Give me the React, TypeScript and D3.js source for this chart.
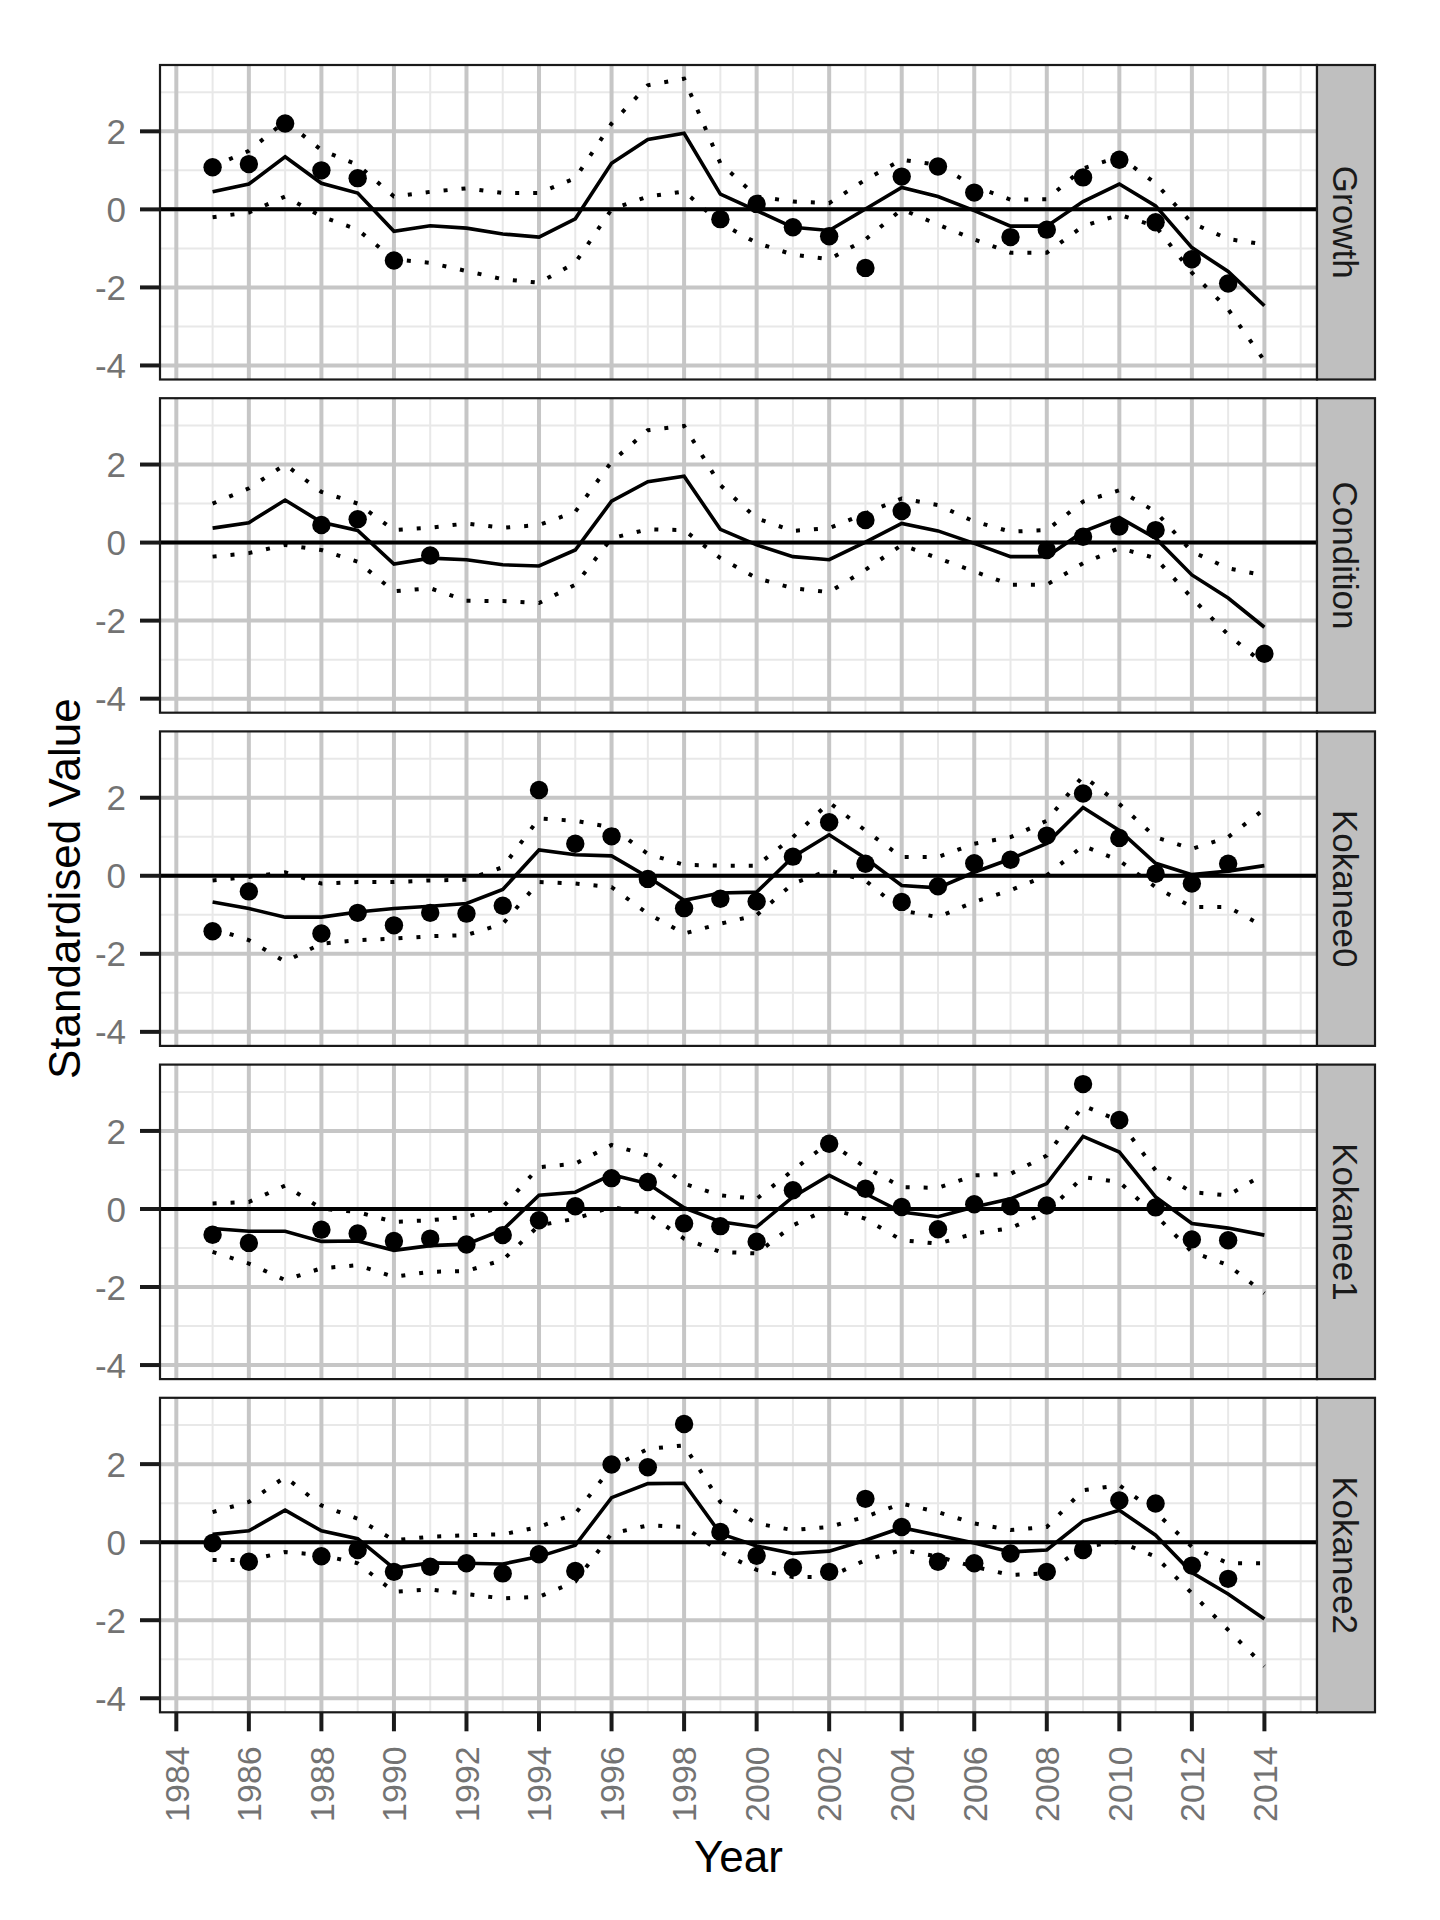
import React from "react";
import * as d3 from "d3";

const years = [1985,1986,1987,1988,1989,1990,1991,1992,1993,1994,1995,1996,1997,1998,1999,2000,2001,2002,2003,2004,2005,2006,2007,2008,2009,2010,2011,2012,2013,2014];
const facetNames = ["Growth", "Condition", "Kokanee0", "Kokanee1", "Kokanee2"];
const xTickYears = [1984,1986,1988,1990,1992,1994,1996,1998,2000,2002,2004,2006,2008,2010,2012,2014];
const yTickValues = [-4, -2, 0, 2];
const yMinorValues = [-3, -1, 1, 3];

const growthTrend = [0.45,0.65,1.35,0.67,0.42,-0.56,-0.42,-0.48,-0.63,-0.71,-0.24,1.18,1.79,1.95,0.39,-0.03,-0.46,-0.54,0.01,0.56,0.33,-0.03,-0.43,-0.43,0.20,0.65,0.09,-0.98,-1.59,-2.47];
const growthUpper = [1.1,1.5,2.26,1.52,1.14,0.33,0.45,0.54,0.42,0.42,0.8,2.2,3.18,3.35,1.18,0.33,0.2,0.16,0.76,1.27,1.14,0.59,0.25,0.26,1.05,1.35,0.67,-0.35,-0.76,-0.9];
const growthLower = [-0.2,-0.08,0.33,-0.18,-0.52,-1.28,-1.37,-1.58,-1.79,-1.88,-1.37,0.0,0.33,0.46,-0.35,-0.86,-1.16,-1.28,-0.77,0.0,-0.39,-0.77,-1.11,-1.11,-0.43,-0.14,-0.43,-1.62,-2.56,-3.88];
const growthObs = [1.08,1.16,2.2,1.0,0.8,-1.31,null,null,null,null,null,null,null,null,-0.25,0.14,-0.46,-0.69,-1.5,0.84,1.1,0.43,-0.71,-0.52,0.82,1.27,-0.33,-1.28,-1.9,null];

const conditionTrend = [0.37,0.51,1.09,0.52,0.31,-0.55,-0.4,-0.44,-0.57,-0.6,-0.19,1.06,1.56,1.7,0.34,-0.06,-0.36,-0.44,0.01,0.49,0.3,-0.02,-0.36,-0.36,0.28,0.64,0.11,-0.83,-1.42,-2.17];
const conditionUpper = [1.0,1.39,2.0,1.3,1.0,0.32,0.38,0.49,0.38,0.45,0.79,2.07,2.88,2.99,1.47,0.62,0.3,0.37,0.75,1.13,0.96,0.54,0.28,0.32,1.05,1.34,0.79,-0.23,-0.66,-0.84];
const conditionLower = [-0.36,-0.27,-0.06,-0.19,-0.49,-1.25,-1.17,-1.49,-1.5,-1.55,-1.08,0.11,0.34,0.32,-0.4,-0.91,-1.17,-1.27,-0.7,-0.06,-0.4,-0.74,-1.08,-1.08,-0.53,-0.14,-0.4,-1.42,-2.36,-3.12];
const conditionObs = [null,null,null,0.45,0.6,null,-0.33,null,null,null,null,null,null,null,null,null,null,null,0.58,0.81,null,null,null,-0.19,0.15,0.41,0.32,null,null,-2.85];

const kokanee0Trend = [-0.67,-0.84,-1.06,-1.06,-0.93,-0.84,-0.78,-0.71,-0.35,0.66,0.54,0.51,-0.03,-0.63,-0.44,-0.42,0.48,1.05,0.45,-0.25,-0.31,0.09,0.43,0.83,1.75,1.16,0.32,0.03,0.12,0.26];
const kokanee0Upper = [-0.12,-0.03,0.09,-0.2,-0.16,-0.16,-0.12,-0.1,0.22,1.47,1.41,1.24,0.56,0.28,0.26,0.26,0.99,1.88,1.16,0.48,0.48,0.82,0.99,1.41,2.56,1.84,0.99,0.69,0.99,1.71];
const kokanee0Lower = [-1.35,-1.65,-2.2,-1.74,-1.65,-1.61,-1.55,-1.52,-1.23,-0.16,-0.2,-0.29,-0.97,-1.48,-1.23,-1.01,-0.2,0.14,-0.12,-0.89,-1.06,-0.67,-0.37,0.01,0.77,0.39,-0.29,-0.8,-0.8,-1.31];
const kokanee0Obs = [-1.42,-0.4,null,-1.48,-0.95,-1.27,-0.95,-0.97,-0.77,2.2,0.82,1.01,-0.08,-0.83,-0.59,-0.66,0.49,1.37,0.31,-0.67,-0.27,0.32,0.41,1.03,2.11,0.97,0.05,-0.2,0.31,null];

const kokanee1Trend = [-0.5,-0.57,-0.57,-0.83,-0.82,-1.06,-0.94,-0.9,-0.54,0.35,0.43,0.88,0.65,0.03,-0.33,-0.46,0.31,0.86,0.39,-0.08,-0.2,0.05,0.26,0.65,1.86,1.46,0.31,-0.37,-0.49,-0.67];
const kokanee1Upper = [0.14,0.18,0.6,0.01,-0.08,-0.33,-0.29,-0.2,0.05,1.07,1.16,1.64,1.37,0.65,0.35,0.26,0.99,1.71,1.07,0.56,0.54,0.86,0.9,1.37,2.65,2.26,0.99,0.43,0.35,0.9];
const kokanee1Lower = [-1.1,-1.4,-1.82,-1.52,-1.44,-1.74,-1.61,-1.59,-1.31,-0.42,-0.25,0.05,-0.12,-0.76,-1.1,-1.14,-0.42,0.01,-0.25,-0.8,-0.89,-0.63,-0.49,-0.08,0.82,0.69,-0.16,-1.1,-1.44,-2.16];
const kokanee1Obs = [-0.66,-0.87,null,-0.53,-0.63,-0.82,-0.76,-0.91,-0.67,-0.29,0.07,0.79,0.69,-0.37,-0.44,-0.84,0.48,1.67,0.52,0.05,-0.52,0.12,0.07,0.09,3.2,2.28,0.04,-0.78,-0.8,null];

const kokanee2Trend = [0.2,0.29,0.82,0.29,0.09,-0.67,-0.53,-0.54,-0.56,-0.37,-0.08,1.14,1.5,1.51,0.22,-0.1,-0.29,-0.23,0.05,0.37,0.18,-0.02,-0.25,-0.2,0.54,0.82,0.18,-0.78,-1.33,-1.97];
const kokanee2Upper = [0.77,1.03,1.67,0.94,0.6,0.05,0.14,0.18,0.2,0.39,0.73,1.92,2.39,2.48,1.03,0.48,0.31,0.39,0.65,0.99,0.77,0.48,0.31,0.39,1.33,1.46,0.77,-0.12,-0.54,-0.54];
const kokanee2Lower = [-0.46,-0.46,-0.25,-0.33,-0.54,-1.27,-1.21,-1.33,-1.44,-1.4,-1.01,0.22,0.43,0.39,-0.25,-0.71,-0.89,-0.89,-0.46,-0.2,-0.37,-0.63,-0.84,-0.8,-0.12,0.01,-0.37,-1.31,-2.25,-3.18];
const kokanee2Obs = [-0.02,-0.5,null,-0.36,-0.2,-0.76,-0.63,-0.54,-0.8,-0.31,-0.74,1.99,1.92,3.03,0.26,-0.35,-0.65,-0.76,1.11,0.39,-0.5,-0.54,-0.29,-0.76,-0.2,1.07,0.99,-0.6,-0.94,null];

const trends = [growthTrend, conditionTrend, kokanee0Trend, kokanee1Trend, kokanee2Trend];
const uppers = [growthUpper, conditionUpper, kokanee0Upper, kokanee1Upper, kokanee2Upper];
const lowers = [growthLower, conditionLower, kokanee0Lower, kokanee1Lower, kokanee2Lower];
const observations = [growthObs, conditionObs, kokanee0Obs, kokanee1Obs, kokanee2Obs];

const W = 1440;
const H = 1920;
const panelLeft = 160;
const panelRight = 1317;
const stripW = 58;
const firstTop = 65;
const panelStep = 333.2;
const panelH = 314.5;
const FONT = "'Liberation Sans', Arial, Helvetica, sans-serif";
const majorCol = "#C6C6C6";
const minorCol = "#E8E8E8";

export default function App() {
  const x = d3.scaleLinear().domain([1983.55, 2015.45]).range([panelLeft, panelRight]);
  const allMinorX = d3.range(1985, 2016, 2);

  const panels = facetNames.map((name, i) => {
    const top = firstTop + i * panelStep;
    const bottom = top + panelH;
    const y = d3.scaleLinear().domain([-4.36, 3.70]).range([bottom, top]);
    const line = d3
      .line<number>()
      .x((_, k) => x(years[k]))
      .y((v) => y(v));
    const pts = observations[i]
      .map((v, k) => (v === null ? null : { yr: years[k], v }))
      .filter((p) => p !== null) as { yr: number; v: number }[];
    return (
      <g key={name}>
        <rect x={panelLeft} y={top} width={panelRight - panelLeft} height={panelH} fill="#fff" />
        <g clipPath={`url(#clip${i})`}>
          {allMinorX.map((yr) => (
            <line key={"mx" + yr} x1={x(yr)} x2={x(yr)} y1={top} y2={bottom} stroke={minorCol} strokeWidth={2} />
          ))}
          {yMinorValues.map((v) => (
            <line key={"my" + v} x1={panelLeft} x2={panelRight} y1={y(v)} y2={y(v)} stroke={minorCol} strokeWidth={2} />
          ))}
          {xTickYears.map((yr) => (
            <line key={"Mx" + yr} x1={x(yr)} x2={x(yr)} y1={top} y2={bottom} stroke={majorCol} strokeWidth={4} />
          ))}
          {yTickValues.map((v) => (
            <line key={"My" + v} x1={panelLeft} x2={panelRight} y1={y(v)} y2={y(v)} stroke={majorCol} strokeWidth={4} />
          ))}
          <line x1={panelLeft} x2={panelRight} y1={y(0)} y2={y(0)} stroke="#000" strokeWidth={4} />
          <path d={line(uppers[i]) || ""} fill="none" stroke="#000" strokeWidth={4} strokeDasharray="4 14" />
          <path d={line(lowers[i]) || ""} fill="none" stroke="#000" strokeWidth={4} strokeDasharray="4 14" />
          <path d={line(trends[i]) || ""} fill="none" stroke="#000" strokeWidth={3.6} strokeLinejoin="miter" />
          {pts.map((p) => (
            <circle key={"p" + p.yr} cx={x(p.yr)} cy={y(p.v)} r={9.2} fill="#000" />
          ))}
        </g>
        <rect x={panelLeft} y={top} width={panelRight - panelLeft} height={panelH} fill="none" stroke="#1a1a1a" strokeWidth={2.2} />
        <rect x={panelRight} y={top} width={stripW} height={panelH} fill="#BFBFBF" stroke="#1a1a1a" strokeWidth={2.2} />
        <text
          transform={`translate(${panelRight + stripW / 2},${top + panelH / 2}) rotate(90)`}
          textAnchor="middle"
          dy="0.36em"
          fontFamily={FONT}
          fontSize={35}
          fill="#1a1a1a"
        >
          {name}
        </text>
        {yTickValues.map((v) => (
          <g key={"yt" + v}>
            <line x1={panelLeft - 20} x2={panelLeft} y1={y(v)} y2={y(v)} stroke="#1a1a1a" strokeWidth={4} />
            <text x={126} y={y(v)} dy="0.36em" textAnchor="end" fontFamily={FONT} fontSize={35} fill="#737373">
              {String(v)}
            </text>
          </g>
        ))}
      </g>
    );
  });

  const lastBottom = firstTop + 4 * panelStep + panelH;

  return (
    <svg width={W} height={H} style={{ position: "absolute", left: 0, top: 0, background: "#fff" }}>
      <defs>
        {facetNames.map((n, i) => (
          <clipPath id={`clip${i}`} key={n}>
            <rect x={panelLeft} y={firstTop + i * panelStep} width={panelRight - panelLeft} height={panelH} />
          </clipPath>
        ))}
      </defs>
      <rect x={0} y={0} width={W} height={H} fill="#fff" />
      {panels}
      {xTickYears.map((yr) => (
        <g key={"xt" + yr}>
          <line x1={x(yr)} x2={x(yr)} y1={lastBottom} y2={lastBottom + 19} stroke="#1a1a1a" strokeWidth={4} />
          <text
            transform={`translate(${x(yr)},${lastBottom + 34}) rotate(-90)`}
            textAnchor="end"
            dy="0.36em"
            fontFamily={FONT}
            fontSize={34}
            fill="#737373"
          >
            {String(yr)}
          </text>
        </g>
      ))}
      <text x={(panelLeft + panelRight) / 2} y={1872} textAnchor="middle" fontFamily={FONT} fontSize={44} fill="#000">
        Year
      </text>
      <text
        transform={`translate(80,${(firstTop + lastBottom) / 2}) rotate(-90)`}
        textAnchor="middle"
        fontFamily={FONT}
        fontSize={44}
        fill="#000"
      >
        Standardised Value
      </text>
    </svg>
  );
}
